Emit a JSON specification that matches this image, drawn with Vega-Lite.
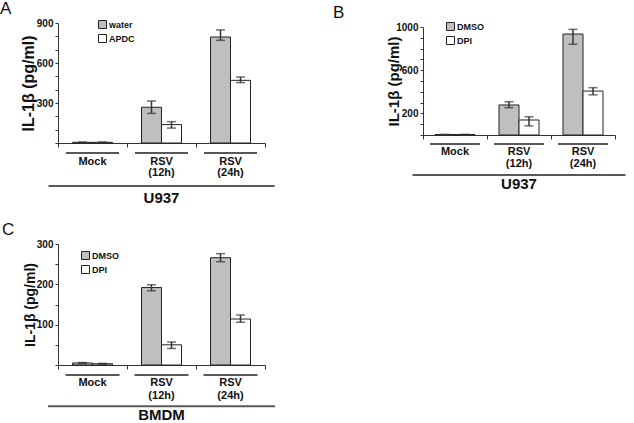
{
  "$schema": "https://vega.github.io/schema/vega-lite/v6.json",
  "padding": {"left": 0, "top": 0, "right": 0, "bottom": 0},
  "columns": 2,
  "spacing": {"row": 15, "column": 58},
  "config": {
    "font": "Liberation Sans",
    "view": {"stroke": null},
    "axis": {"grid": false, "domainColor": "#333", "tickColor": "#333", "labelFontWeight": "bold", "labelFontSize": 10, "labelColor": "#111", "titleColor": "#111", "titleFontWeight": "bold", "labelOverlap": false, "labelFlush": false, "labelPadding": 2, "tickSize": 3},
    "title": {"fontWeight": "normal", "fontSize": 17, "anchor": "start", "frame": "group", "color": "#111"},
    "legend": {"orient": "none", "symbolType": "square", "symbolSize": 64, "symbolStrokeColor": "#222", "symbolStrokeWidth": 1, "labelFontSize": 9, "labelFontWeight": "bold", "labelColor": "#111", "rowPadding": 1, "labelOffset": 2, "padding": 0}
  },
  "resolve": {"scale": {"fill": "independent", "x": "independent", "y": "independent", "xOffset": "independent"}, "legend": {"fill": "independent"}},
  "concat": [
    {
      "width": 207,
      "height": 120,
      "title": {"text": "A", "dx": -58, "offset": 0},
      "resolve": {"scale": {"y": "independent"}, "axis": {"y": "independent"}},
      "layer": [
        {
          "data": {"values": [
            {"group": "Mock", "series": "water", "value": 5, "lo": 3, "hi": 7},
            {"group": "Mock", "series": "APDC", "value": 5, "lo": 3, "hi": 7},
            {"group": "RSV (12h)", "series": "water", "value": 268, "lo": 222, "hi": 315},
            {"group": "RSV (12h)", "series": "APDC", "value": 138, "lo": 112, "hi": 160},
            {"group": "RSV (24h)", "series": "water", "value": 795, "lo": 770, "hi": 848},
            {"group": "RSV (24h)", "series": "APDC", "value": 470, "lo": 453, "hi": 495}
          ]},
          "layer": [
            {
              "mark": {"type": "bar", "stroke": "#222", "strokeWidth": 1},
              "encoding": {
                "x": {"field": "group", "type": "nominal", "scale": {"domain": ["Mock", "RSV (12h)", "RSV (24h)"], "paddingInner": 0, "paddingOuter": 0}, "axis": {"title": null, "labels": false, "tickBand": "extent", "tickSize": 4}},
                "xOffset": {"field": "series", "type": "nominal", "scale": {"domain": ["water", "APDC"], "paddingInner": 0, "paddingOuter": 0.725}},
                "y": {"field": "value", "type": "quantitative", "scale": {"domain": [0, 900], "nice": false}, "axis": {"title": "IL-1β (pg/ml)", "titleFontSize": 16, "titlePadding": 0, "format": "d", "values": [300, 600, 900]}},
                "fill": {"field": "series", "type": "nominal", "scale": {"domain": ["water", "APDC"], "range": ["#bfbfbf", "#ffffff"]}, "legend": {"title": null, "legendX": 40, "legendY": -3, "rowPadding": 1}}
              }
            },
            {
              "mark": {"type": "rule", "color": "#333", "strokeWidth": 1.5},
              "encoding": {
                "x": {"field": "group", "type": "nominal"},
                "xOffset": {"field": "series", "type": "nominal"},
                "y": {"field": "lo", "type": "quantitative"},
                "y2": {"field": "hi"}
              }
            },
            {
              "mark": {"type": "tick", "orient": "horizontal", "size": 9, "thickness": 1.5, "color": "#333"},
              "encoding": {
                "x": {"field": "group", "type": "nominal"},
                "xOffset": {"field": "series", "type": "nominal"},
                "y": {"field": "hi", "type": "quantitative"}
              }
            },
            {
              "mark": {"type": "tick", "orient": "horizontal", "size": 9, "thickness": 1.5, "color": "#333"},
              "encoding": {
                "x": {"field": "group", "type": "nominal"},
                "xOffset": {"field": "series", "type": "nominal"},
                "y": {"field": "lo", "type": "quantitative"}
              }
            },
            {
              "data": {"values": [
                {"group": "Mock", "l1": "Mock", "l2": ""},
                {"group": "RSV (12h)", "l1": "RSV", "l2": "(12h)"},
                {"group": "RSV (24h)", "l1": "RSV", "l2": "(24h)"}
              ]},
              "layer": [
                {"mark": {"type": "tick", "orient": "horizontal", "size": 53, "thickness": 2, "color": "#111"},
                 "encoding": {"x": {"field": "group", "type": "nominal"}, "y": {"datum": -75, "type": "quantitative"}}},
                {"mark": {"type": "text", "fontSize": 11, "fontWeight": "bold", "baseline": "middle", "color": "#111"},
                 "encoding": {"x": {"field": "group", "type": "nominal"}, "y": {"datum": -145, "type": "quantitative"}, "text": {"field": "l1"}}},
                {"mark": {"type": "text", "fontSize": 11, "fontWeight": "bold", "baseline": "middle", "color": "#111"},
                 "encoding": {"x": {"field": "group", "type": "nominal"}, "y": {"datum": -227, "type": "quantitative"}, "text": {"field": "l2"}}}
              ]
            },
            {
              "data": {"values": [{"cell": "U937"}]},
              "layer": [
                {"mark": {"type": "tick", "orient": "horizontal", "size": 226, "thickness": 2, "color": "#111"},
                 "encoding": {"y": {"datum": -322, "type": "quantitative"}}},
                {"mark": {"type": "text", "fontSize": 15, "fontWeight": "bold", "baseline": "middle", "color": "#111"},
                 "encoding": {"y": {"datum": -412, "type": "quantitative"}, "text": {"field": "cell"}}}
              ]
            }
          ]
        },
        {
          "data": {"values": [{"cell": "U937"}]},
          "mark": {"type": "point", "opacity": 0},
          "encoding": {"y": {"datum": 0, "type": "quantitative", "scale": {"domain": [0, 900], "nice": false}, "axis": {"orient": "left", "values": [0, 100, 200, 400, 500, 700, 800], "labels": false, "domain": false, "title": null}}}
        }
      ]
    },
    {
      "width": 192,
      "height": 112,
      "title": {"text": "B", "dx": -90, "offset": 0},
      "resolve": {"scale": {"y": "independent"}, "axis": {"y": "independent"}},
      "layer": [
        {
          "data": {"values": [
            {"group": "Mock", "series": "DMSO", "value": 4, "lo": 2, "hi": 6},
            {"group": "Mock", "series": "DPI", "value": 4, "lo": 2, "hi": 6},
            {"group": "RSV (12h)", "series": "DMSO", "value": 278, "lo": 253, "hi": 308},
            {"group": "RSV (12h)", "series": "DPI", "value": 139, "lo": 85, "hi": 169},
            {"group": "RSV (24h)", "series": "DMSO", "value": 935, "lo": 840, "hi": 978},
            {"group": "RSV (24h)", "series": "DPI", "value": 407, "lo": 372, "hi": 438}
          ]},
          "layer": [
            {
              "mark": {"type": "bar", "stroke": "#222", "strokeWidth": 1},
              "encoding": {
                "x": {"field": "group", "type": "nominal", "scale": {"domain": ["Mock", "RSV (12h)", "RSV (24h)"], "paddingInner": 0, "paddingOuter": 0}, "axis": {"title": null, "labels": false, "tickBand": "extent", "tickSize": 4}},
                "xOffset": {"field": "series", "type": "nominal", "scale": {"domain": ["DMSO", "DPI"], "paddingInner": 0, "paddingOuter": 0.6}},
                "y": {"field": "value", "type": "quantitative", "scale": {"domain": [0, 1000], "nice": false, "range": [112, 4]}, "axis": {"title": "IL-1β (pg/ml)", "titleFontSize": 15, "titlePadding": -6, "format": "d", "values": [200, 600, 1000]}},
                "fill": {"field": "series", "type": "nominal", "scale": {"domain": ["DMSO", "DPI"], "range": ["#bfbfbf", "#ffffff"]}, "legend": {"title": null, "legendX": 23, "legendY": -1, "rowPadding": 1}}
              }
            },
            {
              "mark": {"type": "rule", "color": "#333", "strokeWidth": 1.5},
              "encoding": {
                "x": {"field": "group", "type": "nominal"},
                "xOffset": {"field": "series", "type": "nominal"},
                "y": {"field": "lo", "type": "quantitative"},
                "y2": {"field": "hi"}
              }
            },
            {
              "mark": {"type": "tick", "orient": "horizontal", "size": 9, "thickness": 1.5, "color": "#333"},
              "encoding": {
                "x": {"field": "group", "type": "nominal"},
                "xOffset": {"field": "series", "type": "nominal"},
                "y": {"field": "hi", "type": "quantitative"}
              }
            },
            {
              "mark": {"type": "tick", "orient": "horizontal", "size": 9, "thickness": 1.5, "color": "#333"},
              "encoding": {
                "x": {"field": "group", "type": "nominal"},
                "xOffset": {"field": "series", "type": "nominal"},
                "y": {"field": "lo", "type": "quantitative"}
              }
            },
            {
              "data": {"values": [
                {"group": "Mock", "l1": "Mock", "l2": ""},
                {"group": "RSV (12h)", "l1": "RSV", "l2": "(12h)"},
                {"group": "RSV (24h)", "l1": "RSV", "l2": "(24h)"}
              ]},
              "layer": [
                {"mark": {"type": "tick", "orient": "horizontal", "size": 50, "thickness": 2, "color": "#111"},
                 "encoding": {"x": {"field": "group", "type": "nominal"}, "y": {"datum": -83, "type": "quantitative"}}},
                {"mark": {"type": "text", "fontSize": 11, "fontWeight": "bold", "baseline": "middle", "color": "#111"},
                 "encoding": {"x": {"field": "group", "type": "nominal"}, "y": {"datum": -155, "type": "quantitative"}, "text": {"field": "l1"}}},
                {"mark": {"type": "text", "fontSize": 11, "fontWeight": "bold", "baseline": "middle", "color": "#111"},
                 "encoding": {"x": {"field": "group", "type": "nominal"}, "y": {"datum": -272, "type": "quantitative"}, "text": {"field": "l2"}}}
              ]
            },
            {
              "data": {"values": [{"cell": "U937"}]},
              "layer": [
                {"mark": {"type": "tick", "orient": "horizontal", "size": 213, "thickness": 2, "color": "#111"},
                 "encoding": {"y": {"datum": -370, "type": "quantitative"}}},
                {"mark": {"type": "text", "fontSize": 15, "fontWeight": "bold", "baseline": "middle", "color": "#111"},
                 "encoding": {"y": {"datum": -456, "type": "quantitative"}, "text": {"field": "cell"}}}
              ]
            }
          ]
        },
        {
          "data": {"values": [{"cell": "U937"}]},
          "mark": {"type": "point", "opacity": 0},
          "encoding": {"y": {"datum": 0, "type": "quantitative", "scale": {"domain": [0, 1000], "nice": false, "range": [112, 4]}, "axis": {"orient": "left", "values": [0, 100, 300, 400, 500, 700, 800, 900], "labels": false, "domain": false, "title": null}}}
        }
      ]
    },
    {
      "width": 207,
      "height": 121,
      "title": {"text": "C", "dx": -56, "offset": 0},
      "resolve": {"scale": {"y": "independent"}, "axis": {"y": "independent"}},
      "layer": [
        {
          "data": {"values": [
            {"group": "Mock", "series": "DMSO", "value": 5, "lo": 4, "hi": 6},
            {"group": "Mock", "series": "DPI", "value": 3, "lo": 2, "hi": 4},
            {"group": "RSV (12h)", "series": "DMSO", "value": 192, "lo": 184, "hi": 199},
            {"group": "RSV (12h)", "series": "DPI", "value": 50, "lo": 41, "hi": 57},
            {"group": "RSV (24h)", "series": "DMSO", "value": 266, "lo": 256, "hi": 276},
            {"group": "RSV (24h)", "series": "DPI", "value": 114, "lo": 106, "hi": 124}
          ]},
          "layer": [
            {
              "mark": {"type": "bar", "stroke": "#222", "strokeWidth": 1},
              "encoding": {
                "x": {"field": "group", "type": "nominal", "scale": {"domain": ["Mock", "RSV (12h)", "RSV (24h)"], "paddingInner": 0, "paddingOuter": 0}, "axis": {"title": null, "labels": false, "tickBand": "extent", "tickSize": 4}},
                "xOffset": {"field": "series", "type": "nominal", "scale": {"domain": ["DMSO", "DPI"], "paddingInner": 0, "paddingOuter": 0.725}},
                "y": {"field": "value", "type": "quantitative", "scale": {"domain": [0, 300], "nice": false}, "axis": {"title": "IL-1β (pg/ml)", "titleFontSize": 14, "titlePadding": -1, "format": "d", "values": [100, 200, 300]}},
                "fill": {"field": "series", "type": "nominal", "scale": {"domain": ["DMSO", "DPI"], "range": ["#bfbfbf", "#ffffff"]}, "legend": {"title": null, "legendX": 23, "legendY": 7, "rowPadding": 1}}
              }
            },
            {
              "mark": {"type": "rule", "color": "#333", "strokeWidth": 1.5},
              "encoding": {
                "x": {"field": "group", "type": "nominal"},
                "xOffset": {"field": "series", "type": "nominal"},
                "y": {"field": "lo", "type": "quantitative"},
                "y2": {"field": "hi"}
              }
            },
            {
              "mark": {"type": "tick", "orient": "horizontal", "size": 9, "thickness": 1.5, "color": "#333"},
              "encoding": {
                "x": {"field": "group", "type": "nominal"},
                "xOffset": {"field": "series", "type": "nominal"},
                "y": {"field": "hi", "type": "quantitative"}
              }
            },
            {
              "mark": {"type": "tick", "orient": "horizontal", "size": 9, "thickness": 1.5, "color": "#333"},
              "encoding": {
                "x": {"field": "group", "type": "nominal"},
                "xOffset": {"field": "series", "type": "nominal"},
                "y": {"field": "lo", "type": "quantitative"}
              }
            },
            {
              "data": {"values": [
                {"group": "Mock", "l1": "Mock", "l2": ""},
                {"group": "RSV (12h)", "l1": "RSV", "l2": "(12h)"},
                {"group": "RSV (24h)", "l1": "RSV", "l2": "(24h)"}
              ]},
              "layer": [
                {"mark": {"type": "tick", "orient": "horizontal", "size": 54, "thickness": 2, "color": "#111"},
                 "encoding": {"x": {"field": "group", "type": "nominal"}, "y": {"datum": -25, "type": "quantitative"}}},
                {"mark": {"type": "text", "fontSize": 11, "fontWeight": "bold", "baseline": "middle", "color": "#111"},
                 "encoding": {"x": {"field": "group", "type": "nominal"}, "y": {"datum": -44, "type": "quantitative"}, "text": {"field": "l1"}}},
                {"mark": {"type": "text", "fontSize": 11, "fontWeight": "bold", "baseline": "middle", "color": "#111"},
                 "encoding": {"x": {"field": "group", "type": "nominal"}, "y": {"datum": -76, "type": "quantitative"}, "text": {"field": "l2"}}}
              ]
            },
            {
              "data": {"values": [{"cell": "BMDM"}]},
              "layer": [
                {"mark": {"type": "tick", "orient": "horizontal", "size": 227, "thickness": 2, "color": "#111"},
                 "encoding": {"y": {"datum": -102, "type": "quantitative"}}},
                {"mark": {"type": "text", "fontSize": 15, "fontWeight": "bold", "baseline": "middle", "color": "#111"},
                 "encoding": {"y": {"datum": -125, "type": "quantitative"}, "text": {"field": "cell"}}}
              ]
            }
          ]
        },
        {
          "data": {"values": [{"cell": "BMDM"}]},
          "mark": {"type": "point", "opacity": 0},
          "encoding": {"y": {"datum": 0, "type": "quantitative", "scale": {"domain": [0, 300], "nice": false}, "axis": {"orient": "left", "values": [0, 50, 150, 250], "labels": false, "domain": false, "title": null}}}
        }
      ]
    }
  ]
}
